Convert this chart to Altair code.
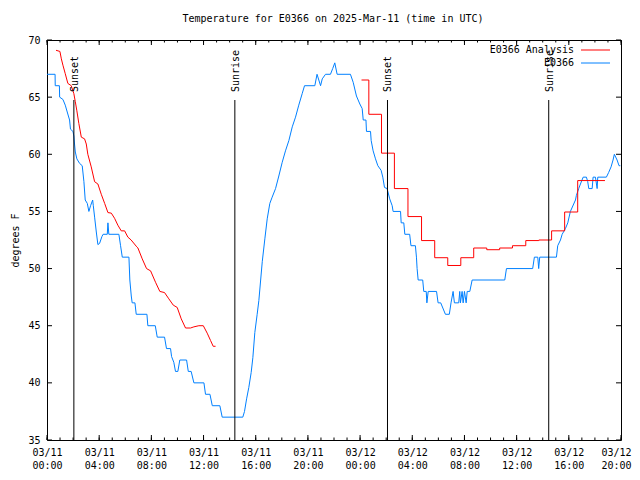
import altair as alt
import pandas as pd

TITLE = "Temperature for E0366 on 2025-Mar-11 (time in UTC)"
FONT = "DejaVu Sans Mono"
RED = "#ff0000"
BLUE = "#0080ff"

# observed E0366 (hours after 2025-03-11 00:00 UTC, degrees F)
obs_points = [
    (0.00, 67), (0.62, 67), (0.63, 66), (0.95, 66), (0.97, 65), (1.22, 64.8), (1.40, 64.3),
    (1.55, 63.7), (1.73, 63), (1.80, 62.2), (1.99, 62), (2.06, 61.6), (2.11, 60.9), (2.17, 60.2),
    (2.29, 59.6), (2.50, 59.2), (2.70, 59), (2.83, 57.6), (2.93, 56), (3.09, 55.7), (3.21, 55),
    (3.34, 55.5), (3.50, 56), (3.55, 55.5), (3.65, 54.5), (3.78, 53.2), (3.90, 52.1), (4.03, 52.2),
    (4.21, 52.8), (4.30, 53), (4.62, 53), (4.67, 54), (4.74, 53), (5.51, 53), (5.64, 52),
    (5.77, 51), (6.28, 51), (6.35, 49), (6.46, 47.6), (6.53, 47), (6.74, 47), (6.84, 46),
    (7.66, 46), (7.73, 45), (8.30, 45), (8.45, 44), (9.01, 44), (9.16, 43), (9.47, 43),
    (9.55, 42.3), (9.72, 41.8), (9.85, 41), (10.03, 41), (10.18, 42), (10.70, 42), (10.83, 41),
    (11.05, 41), (11.26, 40), (12.03, 40), (12.15, 39), (12.49, 39), (12.67, 38), (13.25, 38),
    (13.43, 37), (15.01, 37), (15.14, 37.5), (15.30, 38.6), (15.47, 39.6), (15.65, 40.9),
    (15.78, 42.2), (15.93, 44.4), (16.11, 46.0), (16.24, 47.2), (16.50, 50.6), (16.70, 52.6),
    (16.88, 54.35), (17.08, 55.7), (17.26, 56.25), (17.52, 57.0), (17.77, 58.1), (18.03, 59.3),
    (18.28, 60.3), (18.54, 61.2), (18.80, 62.4), (19.05, 63.25), (19.30, 64.3), (19.56, 65.3),
    (19.74, 66), (20.53, 66), (20.70, 67), (20.97, 66), (21.10, 66.6), (21.35, 67), (21.73, 67),
    (21.90, 67.5), (22.06, 68), (22.24, 67), (23.26, 67), (23.47, 66.3), (23.72, 65.1),
    (23.98, 64.4), (24.16, 64), (24.24, 63), (24.45, 63), (24.49, 62), (24.80, 62), (24.85, 61.2),
    (25.00, 60.3), (25.18, 59.6), (25.36, 59.0), (25.61, 58.6), (25.74, 58.0), (25.87, 57.1),
    (26.07, 57), (26.27, 56.1), (26.46, 55.5), (26.53, 55), (27.10, 55), (27.15, 54), (27.35, 54),
    (27.43, 53), (27.80, 53), (27.90, 52), (28.24, 52), (28.32, 51), (28.37, 50), (28.45, 49),
    (28.80, 49), (28.88, 48), (29.07, 48), (29.12, 47), (29.22, 48), (29.86, 48), (29.98, 47),
    (30.18, 47), (30.54, 46), (30.84, 46), (30.97, 47), (31.13, 48), (31.23, 47), (31.56, 47),
    (31.64, 48), (31.69, 47), (31.82, 48), (31.90, 47), (32.00, 48), (32.13, 47), (32.21, 48),
    (32.41, 48), (32.59, 49), (35.09, 49), (35.22, 50), (37.23, 50), (37.36, 51), (37.62, 51),
    (37.69, 50), (37.77, 51), (39.05, 51), (39.15, 52), (39.36, 52.5), (39.49, 53), (39.74, 53.5),
    (39.92, 54), (40.12, 55), (40.51, 56), (40.58, 56.4), (40.76, 57), (40.89, 57.4), (41.10, 58),
    (41.35, 58), (41.45, 57.6), (41.53, 57), (41.79, 57), (41.86, 58), (42.04, 58), (42.17, 57),
    (42.22, 58), (42.88, 58), (43.05, 58.4), (43.24, 58.9), (43.39, 59.5), (43.49, 60),
    (43.70, 59.5), (43.85, 59), (43.95, 59),
]

# E0366 Analysis, first night (continuous)
ana1_points = [
    (0.69, 69.1), (0.99, 69.0), (1.10, 68.35), (1.22, 67.8), (1.40, 67.05), (1.60, 66.2),
    (1.86, 66.0), (2.06, 65.3), (2.17, 64.6), (2.29, 63.8), (2.44, 62.7), (2.63, 61.5),
    (2.88, 61.35), (3.01, 60.9), (3.13, 60.0), (3.39, 58.9), (3.65, 57.6), (3.90, 57.4),
    (4.16, 56.5), (4.42, 55.7), (4.67, 54.9), (4.93, 54.85), (5.18, 54.4), (5.43, 53.8),
    (5.69, 53.3), (5.95, 53.3), (6.20, 52.75), (6.45, 52.5), (6.88, 51.9), (6.97, 51.8),
    (7.30, 50.85), (7.63, 50.0), (7.94, 49.8), (8.32, 48.8), (8.65, 48.0), (9.01, 47.9),
    (9.34, 47.35), (9.68, 46.8), (9.98, 46.6), (10.29, 45.6), (10.62, 44.8), (11.00, 44.8),
    (11.26, 44.9), (11.64, 45.0), (11.98, 45.0), (12.28, 44.35), (12.54, 43.7), (12.74, 43.2),
    (12.92, 43.2),
]

# E0366 Analysis, second night (hourly steps)
ana2_points = [
    (24.11, 66.5), (24.67, 63.5), (25.64, 60.1), (26.63, 57.0), (27.67, 54.55), (28.71, 52.45),
    (29.72, 50.95), (30.72, 50.27), (31.72, 50.95), (32.71, 51.8), (33.71, 51.65), (34.70, 51.8),
    (35.68, 52.0), (36.70, 52.45), (37.70, 52.5), (38.68, 53.3), (39.68, 54.95), (40.68, 57.7),
    (42.77, 57.7),
]

sun_hours = [2.06, 14.40, 26.10, 38.46]
sun_labels = ["Sunset", "Sunrise", "Sunset", "Sunrise"]

y_ticks = [35, 40, 45, 50, 55, 60, 65, 70]
x_major_hours = [0, 4, 8, 12, 16, 20, 24, 28, 32, 36, 40, 44]
x_minor_hours = list(range(0, 45))

BASE = pd.Timestamp("2025-03-11T00:00:00")


def iso(h):
    return (BASE + pd.Timedelta(hours=h)).strftime("%Y-%m-%dT%H:%M:%SZ")


def frame(points):
    return pd.DataFrame({"t": [iso(h) for h, _ in points], "temp": [v for _, v in points]})


obs_df = frame(obs_points)
ana1_df = frame(ana1_points)
ana2_df = frame(ana2_points)
sun_df = pd.DataFrame({"t": [iso(h) for h in sun_hours], "label": sun_labels})
major_df = pd.DataFrame({"t": [iso(h) for h in x_major_hours]})
minor_df = pd.DataFrame({"t": [iso(h) for h in x_minor_hours]})
ytick_df = pd.DataFrame({"temp": y_ticks})
one = pd.DataFrame({"k": [0]})

W, H = 574, 400

xscale = alt.Scale(
    type="utc",
    domain=[alt.DateTime(year=2025, month=3, date=11, hours=0, utc=True),
            alt.DateTime(year=2025, month=3, date=12, hours=20, utc=True)],
    nice=False,
)
xaxis = alt.Axis(
    values=[alt.DateTime(year=2025, month=3, date=11 + h // 24, hours=h % 24, utc=True)
            for h in x_major_hours],
    labelExpr="[utcFormat(datum.value, '%m/%d'), utcFormat(datum.value, '%H:%M')]",
    labelFont=FONT, labelFontSize=10, labelColor="black", labelLineHeight=13,
    labelBaseline="top", labelPadding=7, labelFlush=False, labelOverlap=False, labelBound=False,
    labelOffset={"condition": {"test": "datum.index > 0.99", "value": -5}, "value": 0},
    ticks=False, domain=False, grid=False, title=None,
)
X = alt.X("t:T", scale=xscale, axis=xaxis)

yscale = alt.Scale(domain=[35, 70], nice=False, zero=False)
yaxis = alt.Axis(
    values=y_ticks, labelFont=FONT, labelFontSize=10, labelColor="black", labelPadding=7,
    ticks=False, domain=False, grid=False, title="degrees F", titleFont=FONT,
    titleFontSize=10, titleFontWeight="normal", titleColor="black", titlePadding=7,
)
Y = alt.Y("temp:Q", scale=yscale, axis=yaxis)

obs = alt.Chart(obs_df).mark_line(color=BLUE, strokeWidth=1).encode(x=X, y=Y)
ana1 = alt.Chart(ana1_df).mark_line(color=RED, strokeWidth=1).encode(x=X, y=Y)
ana2 = alt.Chart(ana2_df).mark_line(color=RED, strokeWidth=1, interpolate="step-after").encode(x=X, y=Y)

sun_rules = alt.Chart(sun_df).mark_rule(color="black", strokeWidth=1).encode(
    x=X, y=alt.value(0.15 * H), y2=alt.value(H))
sun_text = alt.Chart(sun_df).mark_text(
    angle=270, align="left", baseline="middle", font=FONT, fontSize=10, color="black", dy=1
).encode(x=X, y=alt.value(0.13 * H), text="label:N")


def xticks(df, length):
    bottom = alt.Chart(df).mark_rule(color="black", strokeWidth=1).encode(
        x=X, y=alt.value(H), y2=alt.value(H - length))
    top = alt.Chart(df).mark_rule(color="black", strokeWidth=1).encode(
        x=X, y=alt.value(0), y2=alt.value(length))
    return [bottom, top]


yt_left = alt.Chart(ytick_df).mark_rule(color="black", strokeWidth=1).encode(
    y=Y, x=alt.value(0), x2=alt.value(5))
yt_right = alt.Chart(ytick_df).mark_rule(color="black", strokeWidth=1).encode(
    y=Y, x=alt.value(W), x2=alt.value(W - 5))

title = alt.Chart(one).mark_text(font=FONT, fontSize=10, color="black", align="center",
                                 baseline="middle").encode(
    x=alt.value(W / 2 - 1), y=alt.value(-21), text=alt.value(TITLE))

leg_t1 = alt.Chart(one).mark_text(font=FONT, fontSize=10, color="black", align="right",
                                  baseline="middle").encode(
    x=alt.value(527), y=alt.value(10), text=alt.value("E0366 Analysis"))
leg_t2 = alt.Chart(one).mark_text(font=FONT, fontSize=10, color="black", align="right",
                                  baseline="middle").encode(
    x=alt.value(527), y=alt.value(23), text=alt.value("E0366"))
leg_l1 = alt.Chart(one).mark_rule(color=RED, strokeWidth=1).encode(
    x=alt.value(534), x2=alt.value(563), y=alt.value(10))
leg_l2 = alt.Chart(one).mark_rule(color=BLUE, strokeWidth=1).encode(
    x=alt.value(534), x2=alt.value(563), y=alt.value(23))

layers = [obs, ana1, ana2, sun_rules, sun_text] + xticks(major_df, 5) + xticks(minor_df, 2.5) + [
    yt_left, yt_right, title, leg_t1, leg_t2, leg_l1, leg_l2]

chart = alt.layer(*layers).properties(
    width=W, height=H,
    autosize=alt.AutoSizeParams(type="none"),
    padding={"left": 39, "top": 32, "right": 11, "bottom": 32},
    background="white",
).configure_view(stroke="black", strokeWidth=1)

chart.save("out.html", embed_options={"renderer": "svg", "actions": False})
